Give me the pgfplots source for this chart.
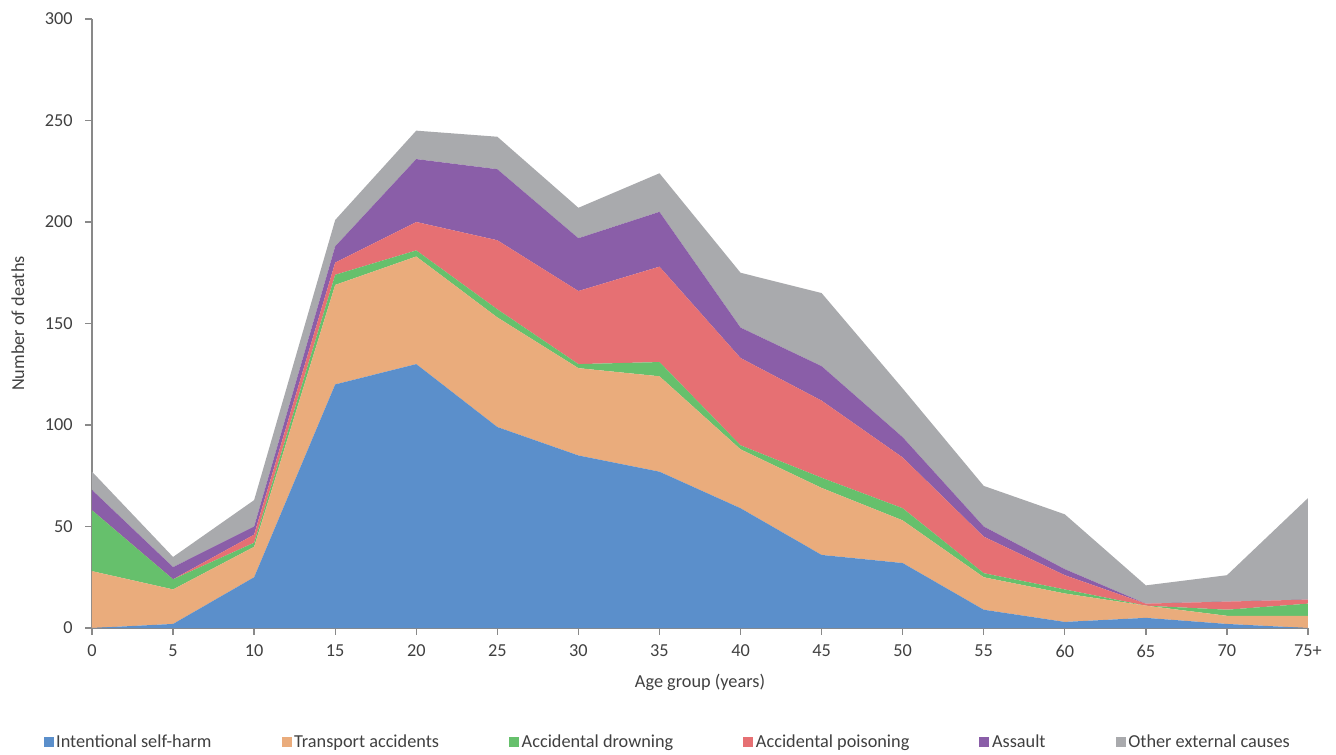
\documentclass[border=0pt]{standalone}
\usepackage{pgfplots}
\pgfplotsset{compat=1.18}
\usepackage{pgfplotstable}
\usepackage{fontspec}
\setmainfont{Carlito}

\definecolor{cSelf}{RGB}{91,143,203}
\definecolor{cTrans}{RGB}{234,172,124}
\definecolor{cDrown}{RGB}{102,192,108}
\definecolor{cPois}{RGB}{230,112,115}
\definecolor{cAss}{RGB}{138,94,168}
\definecolor{cOther}{RGB}{169,170,173}
\definecolor{axgray}{RGB}{137,137,137}
\definecolor{txt}{RGB}{64,64,64}

% deaths by age group, one column per cause
\pgfplotstableread{
age self transport drown poison assault other
0  0   28 30 0  10 9
5  2   17 5  0  6  5
10 25  15 2  4  4  13
15 120 49 5  6  8  13
20 130 53 3  14 31 14
25 99  54 4  34 35 16
30 85  43 2  36 26 15
35 77  47 7  47 27 19
40 59  29 2  43 15 27
45 36  33 5  38 17 36
50 32  21 6  25 10 24
55 9   16 2  18 5  20
60 3   14 2  7  3  27
65 5   6  0  1  0  9
70 2   4  3  4  0  13
75 0   6  6  2  0  50
}\deaths

\newcommand{\lbl}{\fontsize{13.7}{16}\selectfont\color{txt}}

\begin{document}
\begin{tikzpicture}[x=0.75pt,y=0.75pt]
\begin{axis}[
    scale only axis,
    width=912pt, height=456.75pt,
    xmin=0, xmax=75, ymin=0, ymax=300,
    stack plots=y,
    axis x line*=bottom, axis y line*=left,
    axis line style={axgray, line width=1pt},
    tick align=outside,
    major tick length=5pt,
    tick style={axgray, line width=1pt},
    xtick={0,5,...,75},
    xticklabels={0,5,10,15,20,25,30,35,40,45,50,55,60,65,70,75+},
    ytick={0,50,...,300},
    /pgf/number format/assume math mode=true,
    ticklabel style={font=\lbl},
    xticklabel style={yshift=-4pt},
    yticklabel style={xshift=-6pt},
    xlabel={Age group (years)},
    ylabel={Number of deaths},
    label style={font=\lbl},
    xlabel style={at={(0.5,-0.09)}, anchor=center},
    ylabel style={at={(-0.061,0.5)}, anchor=center},
    legend columns=6,
    legend style={draw=none, font=\lbl, at={(0.4737,-0.187)}, anchor=center,
        /tikz/every even column/.append style={column sep=50.5pt}},
    legend image code/.code={\fill[#1] (0pt,-3.75pt) rectangle (7.5pt,3.75pt);},
    clip=false,
]
\addplot[fill=cSelf, draw=none] table[x=age, y=self] {\deaths} \closedcycle;
\addlegendentry{Intentional self-harm}
\addplot[fill=cTrans, draw=none] table[x=age, y=transport] {\deaths} \closedcycle;
\addlegendentry{Transport accidents}
\addplot[fill=cDrown, draw=none] table[x=age, y=drown] {\deaths} \closedcycle;
\addlegendentry{Accidental drowning}
\addplot[fill=cPois, draw=none] table[x=age, y=poison] {\deaths} \closedcycle;
\addlegendentry{Accidental poisoning}
\addplot[fill=cAss, draw=none] table[x=age, y=assault] {\deaths} \closedcycle;
\addlegendentry{Assault}
\addplot[fill=cOther, draw=none] table[x=age, y=other] {\deaths} \closedcycle;
\addlegendentry{Other external causes}
\end{axis}
\pgfresetboundingbox
\useasboundingbox (-92,-126) rectangle (1244,628);
\end{tikzpicture}
\end{document}
